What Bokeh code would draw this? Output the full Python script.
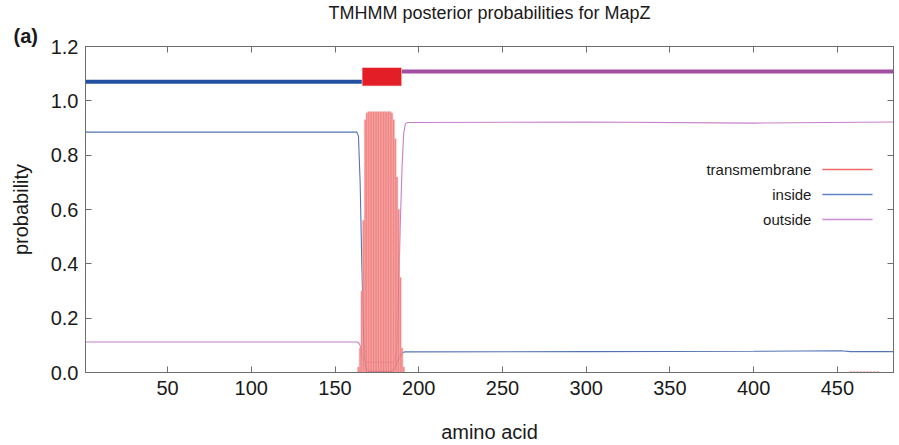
from bokeh.plotting import figure
from bokeh.models import Range1d, FixedTicker, LinearAxis, PrintfTickFormatter, Title
from bokeh.embed import file_html
from bokeh.resources import INLINE
from bokeh.core.properties import value

# ---------------- data ----------------
title_text = "TMHMM posterior probabilities for MapZ"
panel_tag = "(a)"
x_label = "amino acid"
y_label = "probability"
x_ticks = [50, 100, 150, 200, 250, 300, 350, 400, 450]
y_ticks = [0.0, 0.2, 0.4, 0.6, 0.8, 1.0, 1.2]
x_min, x_max = 1, 483.5

# transmembrane posterior (impulses per residue)
tm_res = [164, 165, 166, 167, 168, 169, 170, 171, 172, 173, 174, 175, 176, 177,
          178, 179, 180, 181, 182, 183, 184, 185, 186, 187, 188, 189, 190, 191,
          458, 460, 462, 464, 466, 468, 470, 472, 474]
tm_prob = [0.02, 0.09, 0.30, 0.56, 0.93, 0.955, 0.96, 0.96, 0.96, 0.96, 0.96, 0.96, 0.96, 0.96,
           0.96, 0.96, 0.96, 0.96, 0.96, 0.96, 0.955, 0.93, 0.86, 0.72, 0.60, 0.35, 0.09, 0.02,
           0.004, 0.004, 0.004, 0.004, 0.004, 0.004, 0.004, 0.004, 0.004]

# inside posterior
inside_res = [1, 163, 164, 165, 166, 167, 168, 169, 170, 184, 185, 186, 187, 188,
              189, 190, 191, 192, 300, 400, 452, 458, 483.5]
inside_prob = [0.885, 0.885, 0.87, 0.70, 0.40, 0.15, 0.03, 0.008, 0.004, 0.004, 0.01, 0.02, 0.035, 0.05,
               0.063, 0.071, 0.075, 0.076, 0.077, 0.078, 0.080, 0.077, 0.077]

# outside posterior
outside_res = [1, 163, 164, 165, 166, 167, 168, 185, 186, 187, 188, 189, 190, 191,
               192, 193, 300, 400, 483.5]
outside_prob = [0.112, 0.112, 0.11, 0.10, 0.07, 0.045, 0.038, 0.038, 0.045, 0.10, 0.30, 0.55, 0.75, 0.88,
                0.915, 0.92, 0.922, 0.918, 0.922]

# predicted topology
region_names = ["inside", "TMhelix", "outside"]
region_start = [1, 167, 190]
region_end = [166, 189, 483.5]

legend_labels = ["transmembrane", "inside", "outside"]

# ---------------- styles ----------------
FONT = "Liberation Sans"
C_TM = "#ec6363"
C_TM_EDGE = "#f6aaaa"
C_IN = "#5374b6"
C_OUT = "#c77fc9"
C_TOP_IN = "#2350a0"
C_TOP_TM = "#e41e26"
C_TOP_OUT = "#a24ea2"
AXIS_C = "#6e6e6e"
TEXT_C = "#1a1a1a"

p = figure(width=899, height=445, output_backend="svg", toolbar_location=None,
           x_range=Range1d(x_min, x_max), y_range=Range1d(0, 1.2),
           min_border_left=85, min_border_right=6, min_border_top=46, min_border_bottom=73)
p.grid.visible = False
p.outline_line_color = AXIS_C
p.background_fill_color = "white"
p.border_fill_color = "white"

# posterior lines
p.line(inside_res, inside_prob, line_color=C_IN, line_width=1.1)
p.line(outside_res, outside_prob, line_color=C_OUT, line_width=1.1)

# transmembrane impulses
p.vbar(x=tm_res, top=tm_prob, bottom=0, width=1.0, fill_color=C_TM, fill_alpha=0.8,
       line_color=C_TM_EDGE, line_width=0.6, line_alpha=0.8)

# topology bar at top
in_level, out_level = 1.07, 1.108
box_bottom, box_top = 1.056, 1.121
for name, s, e in zip(region_names, region_start, region_end):
    if name == "inside":
        p.segment(x0=[s], y0=[in_level], x1=[e], y1=[in_level], line_color=C_TOP_IN, line_width=4)
    elif name == "outside":
        p.segment(x0=[s], y0=[out_level], x1=[e], y1=[out_level], line_color=C_TOP_OUT, line_width=4)
    else:
        p.quad(left=[s - 0.5], right=[e + 0.5], bottom=[box_bottom], top=[box_top],
               fill_color=C_TOP_TM, line_color=C_TOP_TM, line_width=0.5)

# legend (label on the left, sample on the right)
leg_colors = ["#f06a6a", "#6484c4", "#cc8ed0"]
leg_y = [0.747, 0.655, 0.563]
p.text(x=[434.5] * 3, y=leg_y, text=legend_labels, text_align="right", text_baseline="middle",
       text_font=value(FONT), text_font_size="15px", text_color=TEXT_C)
p.segment(x0=[441] * 3, y0=leg_y, x1=[471] * 3, y1=leg_y, line_color=leg_colors, line_width=1.5)

# axes
xa = p.xaxis[0]
ya = p.yaxis[0]
xa.ticker = FixedTicker(ticks=x_ticks)
ya.ticker = FixedTicker(ticks=y_ticks)
ya.formatter = PrintfTickFormatter(format="%.1f")
for ax in (xa, ya):
    ax.major_tick_in = 6
    ax.major_tick_out = 0
    ax.minor_tick_line_color = None
    ax.axis_line_color = AXIS_C
    ax.major_tick_line_color = AXIS_C
    ax.major_label_text_font = FONT
    ax.major_label_text_font_size = "20px"
    ax.major_label_text_color = TEXT_C
    ax.axis_label_text_font = FONT
    ax.axis_label_text_font_size = "20px"
    ax.axis_label_text_font_style = "normal"
    ax.axis_label_text_color = TEXT_C
xa.axis_label = x_label
ya.axis_label = y_label
xa.major_label_standoff = 8
xa.axis_label_standoff = 23
ya.major_label_standoff = 7
ya.axis_label_standoff = 16

top_ax = LinearAxis(ticker=FixedTicker(ticks=x_ticks), major_tick_in=6, major_tick_out=0,
                    minor_tick_line_color=None, axis_line_color=AXIS_C, major_tick_line_color=AXIS_C,
                    major_label_text_font_size="0px", major_label_standoff=0)
right_ax = LinearAxis(ticker=FixedTicker(ticks=y_ticks), major_tick_in=6, major_tick_out=0,
                      minor_tick_line_color=None, axis_line_color=AXIS_C, major_tick_line_color=AXIS_C,
                      major_label_text_font_size="0px", major_label_standoff=0)
p.add_layout(top_ax, "above")
p.add_layout(right_ax, "right")

# panel tag (closer to frame) and title (outermost)
p.add_layout(Title(text=panel_tag, align="left", offset=-72, standoff=0, text_font=FONT,
                   text_font_size="20px", text_font_style="bold", text_color=TEXT_C), "above")
p.add_layout(Title(text=title_text, align="center", standoff=0, text_font=FONT,
                   text_font_size="18px", text_font_style="normal", text_color=TEXT_C), "above")

open("out.html", "w").write(file_html(p, INLINE))
